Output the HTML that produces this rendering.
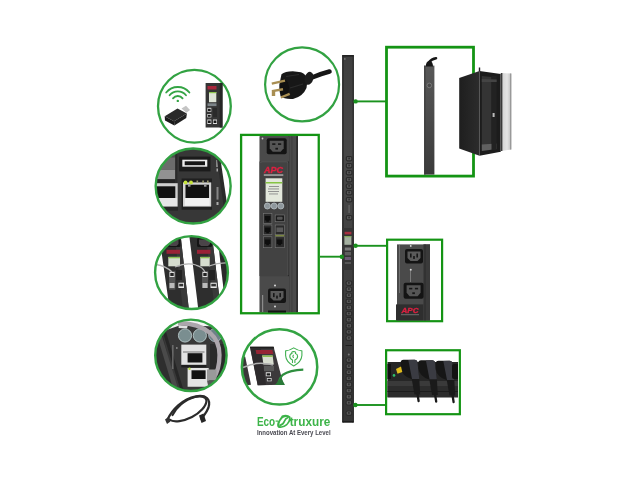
<!DOCTYPE html>
<html><head><meta charset="utf-8">
<style>
html,body{margin:0;padding:0;background:#fff;width:640px;height:480px;overflow:hidden}
svg{display:block;filter:blur(0.35px)}
.t{font-family:"Liberation Sans",sans-serif;font-weight:bold}
</style></head><body>
<svg width="640" height="480" viewBox="0 0 640 480">
<defs>
<clipPath id="c1"><circle cx="194.4" cy="106.25" r="36.4"/></clipPath>
<clipPath id="c2"><circle cx="193.15" cy="186.05" r="37.5"/></clipPath>
<clipPath id="c3"><circle cx="191.5" cy="272.55" r="36.4"/></clipPath>
<clipPath id="c4"><circle cx="190.9" cy="355.3" r="35.7"/></clipPath>
<clipPath id="c5"><circle cx="279.55" cy="366.9" r="37.7"/></clipPath>
<clipPath id="cr4"><rect x="387.5" y="351.5" width="70.5" height="61.5"/></clipPath>
<linearGradient id="pduG" x1="0" y1="0" x2="0" y2="1">
<stop offset="0" stop-color="#3e3e3e"/><stop offset="0.5" stop-color="#484848"/><stop offset="1" stop-color="#363636"/>
</linearGradient>
<linearGradient id="pduH" x1="0" y1="0" x2="1" y2="0">
<stop offset="0" stop-color="#2e2e2e"/><stop offset="0.3" stop-color="#474747"/><stop offset="1" stop-color="#3a3a3a"/>
</linearGradient>
<linearGradient id="trG" x1="0" y1="0" x2="0" y2="1">
<stop offset="0" stop-color="#585858"/><stop offset="0.5" stop-color="#4a4a4a"/><stop offset="1" stop-color="#3a3a3a"/>
</linearGradient>
<!-- C19 outlet symbol, 20x16 -->
<g id="c19">
<rect x="0" y="0" width="20" height="16" rx="2" fill="#141414"/>
<path d="M3 2.5 H17 V10 L14 13.5 H6 L3 10 Z" fill="#555"/>
<rect x="5.5" y="5" width="3.2" height="1.6" fill="#161616"/>
<rect x="11.3" y="5" width="3.2" height="1.6" fill="#161616"/>
<rect x="8.7" y="9.5" width="2.6" height="1.8" fill="#161616"/>
</g>
<!-- C13 outlet symbol, 18x14.5 -->
<g id="c13">
<rect x="0" y="0" width="18" height="14.5" rx="2" fill="#141414"/>
<path d="M2.5 2.5 H15.5 V9 L12.5 12 H5.5 L2.5 9 Z" fill="#5a5a5a"/>
<rect x="5" y="4.5" width="1.6" height="4" fill="#161616"/>
<rect x="11.4" y="4.5" width="1.6" height="4" fill="#161616"/>
<rect x="8.2" y="7" width="1.6" height="3" fill="#161616"/>
</g>
</defs>
<rect width="640" height="480" fill="#fff"/>

<!-- ============ main PDU ============ -->
<g id="mainpdu">
<defs>
<linearGradient id="mpG" x1="0" y1="0" x2="0" y2="1">
<stop offset="0" stop-color="#3e3e3e"/><stop offset="0.3" stop-color="#484848"/><stop offset="0.55" stop-color="#404040"/><stop offset="1" stop-color="#343434"/>
</linearGradient>
<g id="ol"><rect x="0" y="0" width="6.6" height="5.4" rx="1.8" fill="#2a2a2a"/><rect x="1.1" y="0.9" width="4.4" height="3.4" rx="1" fill="#575757"/><rect x="2.5" y="1.5" width="1.6" height="1.8" fill="#2e2e2e"/></g>
</defs>
<rect x="342.2" y="55" width="11.7" height="367.5" rx="1.2" fill="url(#mpG)"/>
<rect x="342.2" y="55" width="1.5" height="367.5" fill="#2c2c2c"/>
<rect x="352.4" y="55" width="1.5" height="367.5" fill="#303030"/>
<rect x="342.6" y="55" width="10.9" height="1.6" fill="#222"/>
<circle cx="344.8" cy="58.9" r="0.9" fill="#777"/>
<rect x="342.6" y="421" width="10.9" height="1.5" fill="#1e1e1e"/>

<use href="#ol" x="345.8" y="156"/>
<use href="#ol" x="345.8" y="163"/>
<use href="#ol" x="345.8" y="170"/>
<use href="#ol" x="345.8" y="177"/>
<use href="#ol" x="345.8" y="183.5"/>
<use href="#ol" x="345.8" y="190"/>
<use href="#ol" x="345.8" y="197"/>
<rect x="348.5" y="205" width="1.2" height="8" fill="#6a6a6a"/>
<use href="#ol" x="345.8" y="215"/>
<rect x="342.8" y="228" width="10.6" height="42" fill="#353535"/>
<rect x="344.6" y="231.8" width="6.8" height="2.6" fill="#a83040"/>
<rect x="344.4" y="236.2" width="7" height="8.6" fill="#a4b0a0"/>
<rect x="344.4" y="236.2" width="7" height="1" fill="#7fae50"/>
<rect x="344.8" y="247.5" width="6.2" height="3" fill="#7a7a7a"/>
<rect x="344.8" y="252" width="6.2" height="3.4" fill="#5e5e5e"/>
<rect x="344.8" y="257" width="6.2" height="3" fill="#6a5a72"/>
<rect x="344.8" y="262" width="6.2" height="2" fill="#555"/>

<use href="#ol" x="345.6" y="280.5"/>
<use href="#ol" x="345.6" y="286.6"/>
<use href="#ol" x="345.6" y="292.7"/>
<use href="#ol" x="345.6" y="298.8"/>
<use href="#ol" x="345.6" y="304.9"/>
<use href="#ol" x="345.6" y="311.0"/>
<use href="#ol" x="345.6" y="317.1"/>
<use href="#ol" x="345.6" y="323.2"/>
<use href="#ol" x="345.6" y="329.3"/>
<use href="#ol" x="345.6" y="335.4"/>
<rect x="345.6" y="345" width="6.4" height="1" fill="#1e1e1e"/>
<circle cx="348.8" cy="354.6" r="1" fill="#777"/>
<use href="#ol" x="345.6" y="357.5"/>
<use href="#ol" x="345.6" y="363.6"/>
<use href="#ol" x="345.6" y="369.7"/>
<use href="#ol" x="345.6" y="375.8"/>
<use href="#ol" x="345.6" y="381.9"/>
<use href="#ol" x="345.6" y="388.0"/>
<use href="#ol" x="345.6" y="394.1"/>
<use href="#ol" x="345.6" y="400.2"/>
<use href="#ol" x="345.6" y="410.5"/>
</g>

<!-- connector lines -->
<g stroke="#1a921e" stroke-width="1.9" fill="none">
<line x1="320" y1="256.7" x2="342" y2="256.7"/>
<line x1="354" y1="101.4" x2="386" y2="101.4"/>
<line x1="354" y1="245.8" x2="386" y2="245.8"/>
<line x1="354" y1="405" x2="386" y2="405"/>
</g>
<g fill="#1a921e">
<circle cx="341.8" cy="256.7" r="2.2"/>
<circle cx="355.6" cy="101.4" r="2.2"/>
<circle cx="355.6" cy="245.8" r="2.2"/>
<circle cx="355.4" cy="405" r="2.2"/>
</g>

<!-- ============ big left rect ============ -->
<rect x="241.1" y="134.9" width="77.65" height="178.35" fill="none" stroke="#149414" stroke-width="2.3"/>
<g id="bigpdu">
<rect x="259.5" y="136.2" width="38.5" height="175.9" fill="#3e3e3e"/>
<rect x="288" y="136.2" width="10" height="175.9" fill="#4a4a4a"/>
<rect x="288" y="136.2" width="1.2" height="175.9" fill="#2a2a2a"/>
<rect x="291.5" y="136.2" width="0.8" height="175.9" fill="#3a3a3a"/>
<rect x="296.2" y="136.2" width="1.8" height="175.9" fill="#2c2c2c"/>
<rect x="260" y="136.2" width="29" height="25.3" fill="#4a4a4a"/>
<use href="#c19" x="266.7" y="138.3"/>
<circle cx="262.5" cy="138.5" r="0.9" fill="#ccc"/>
<rect x="259.5" y="161.5" width="28.5" height="114.5" fill="#424242"/>
<text x="264" y="173" class="t" font-size="9.6" font-style="italic" fill="#dc2040" stroke="#dc2040" stroke-width="0.35" textLength="19" lengthAdjust="spacingAndGlyphs">APC</text>
<rect x="263.8" y="174.2" width="19.5" height="1.7" fill="#b4b4b4" opacity="0.8"/>
<rect x="265.6" y="178.3" width="16.7" height="23.5" fill="#e3e8dc"/>
<rect x="265.6" y="182" width="16.7" height="1.5" fill="#86c444"/>
<g fill="#8a8a8a"><rect x="269" y="186" width="10" height="0.9"/><rect x="268" y="188.5" width="11" height="0.9"/><rect x="268" y="191" width="11" height="0.9"/><rect x="269" y="193.5" width="9" height="0.9"/></g>
<g fill="#8e979c" stroke="#b8c0c4" stroke-width="0.8">
<circle cx="267.4" cy="206" r="3"/><circle cx="274.1" cy="206" r="3"/><circle cx="280.8" cy="206" r="3"/>
</g>
<!-- ports -->
<g stroke="#7a7a7a" stroke-width="0.6">
<rect x="263.3" y="213.5" width="8.6" height="9.8" fill="#2a2a2a"/>
<rect x="275.2" y="215" width="9.2" height="6.7" fill="#1c1c1c"/>
<rect x="263.3" y="225" width="8.6" height="9.7" fill="#2a2a2a"/>
<rect x="275.2" y="225" width="9.2" height="9.7" fill="#2a2a2a"/>
<rect x="263.3" y="236.8" width="8.6" height="10.9" fill="#2a2a2a"/>
<rect x="275.2" y="236.8" width="9.2" height="10.9" fill="#2a2a2a"/>
</g>
<g fill="#0e0e0e">
<path d="M264.8 216 h5.6 v4.5 h-1.5 v1.2 h-2.6 v-1.2 h-1.5 z"/>
<path d="M264.8 227.5 h5.6 v4.5 h-1.5 v1.2 h-2.6 v-1.2 h-1.5 z"/>
<path d="M264.8 239.5 h5.6 v4.5 h-1.5 v1.2 h-2.6 v-1.2 h-1.5 z"/>
<path d="M276.8 239.5 h5.6 v4.5 h-1.5 v1.2 h-2.6 v-1.2 h-1.5 z"/>
</g>
<rect x="277" y="216.8" width="5.6" height="3" rx="1" fill="#555"/>
<rect x="276.5" y="227.5" width="6.6" height="4.5" fill="#5a5a5a"/>
<rect x="275.2" y="234.9" width="9.2" height="1.4" fill="#8a9a40" opacity="0.8"/>
<path d="M260.5 163 Q260.5 161.8 262 161.8 L286.5 161.8 Q288 161.8 288 163 L288 275" fill="none" stroke="#5a5a5a" stroke-width="0.7"/>
<rect x="260" y="276.2" width="29" height="36" fill="#4a4a4a"/>
<use href="#c13" x="268" y="288.6"/>
<circle cx="275" cy="285.4" r="1" fill="#ddd"/>
<circle cx="275" cy="306.6" r="1" fill="#ddd"/>
<rect x="262.5" y="295" width="0.6" height="17" fill="#ccc"/>
<rect x="268" y="310.5" width="18" height="2" fill="#141414"/>
</g>

<!-- ============ top right rect ============ -->
<rect x="386.5" y="47.2" width="87" height="128.9" fill="none" stroke="#149414" stroke-width="2.8"/>
<rect x="424.2" y="65.6" width="10.2" height="109" fill="url(#trG)"/><rect x="424.2" y="65.6" width="1.2" height="109" fill="#3a3a3a"/>
<path d="M428.8 62.5 Q431.5 58.8 436 58.2" stroke="#161616" stroke-width="2.6" fill="none" stroke-linecap="round"/><path d="M425.8 66.4 Q425.8 61.2 429.4 61.2 Q433 61.2 433 66.4 Z" fill="#161616"/>
<circle cx="429.3" cy="85.4" r="2.3" fill="#4a4a4a" stroke="#8a8a8a" stroke-width="0.7"/>
<!-- rack -->
<defs>
<linearGradient id="sideG" x1="0" y1="0" x2="1" y2="0"><stop offset="0" stop-color="#1e1e1e"/><stop offset="1" stop-color="#2c2c2c"/></linearGradient>
<linearGradient id="doorG" x1="0" y1="0" x2="1" y2="0"><stop offset="0" stop-color="#cfcfcf"/><stop offset="0.6" stop-color="#e4e4e4"/><stop offset="1" stop-color="#bdbdbd"/></linearGradient>
</defs>
<polygon points="459.2,78.1 479.5,70.9 479.5,155.8 459.2,148.5" fill="url(#sideG)"/>
<polygon points="479.5,70.9 500.8,74 500.8,151.7 479.5,155.8" fill="#1c1c1c"/>
<polygon points="481.8,76 491.5,77 491.5,146 481.8,149" fill="#343434"/>
<polygon points="481.8,144.5 496.7,143.5 496.7,149 481.8,151" fill="#606060"/>
<rect x="491.5" y="76" width="5.2" height="74" fill="#222"/>
<rect x="492.6" y="113" width="2" height="4" fill="#bbb"/>
<polygon points="481.8,79 496.7,79.5 496.7,82 481.8,82" fill="#444"/>
<polygon points="500.8,73 511.3,73.5 511.3,149.6 500.8,151" fill="url(#doorG)"/>
<rect x="500.8" y="73" width="1.6" height="78" fill="#3a3a3a"/>
<rect x="510" y="73.5" width="1.3" height="76" fill="#999"/>
<line x1="479.5" y1="67.5" x2="479.5" y2="71.5" stroke="#222" stroke-width="1.4"/>

<!-- ============ middle right rect ============ -->
<rect x="387.1" y="239.7" width="55" height="81.5" fill="none" stroke="#149414" stroke-width="2.2"/>
<rect x="397" y="244.4" width="33" height="76" fill="#4a4a4a"/>
<rect x="423.3" y="244.4" width="6.7" height="76" fill="#3a3a3a"/>
<rect x="424.5" y="244.4" width="1" height="76" fill="#2a2a2a"/>
<use href="#c13" x="405" y="249" transform=""/>
<use href="#c19" x="403.6" y="282.8" transform=""/>
<circle cx="410.75" cy="245.9" r="0.9" fill="#ddd"/>
<circle cx="410.75" cy="269.7" r="1" fill="#ddd"/>
<rect x="410.5" y="270" width="0.5" height="12" fill="#aaa"/>
<rect x="399.5" y="245" width="0.5" height="48" fill="#999"/>
<rect x="396" y="304.4" width="27.3" height="16" fill="#2e2e2e"/>
<text x="401.5" y="313" class="t" font-size="7" font-style="italic" fill="#dc2040" stroke="#dc2040" stroke-width="0.3" textLength="17" lengthAdjust="spacingAndGlyphs">APC</text>
<rect x="401" y="314.2" width="18" height="1" fill="#999" opacity="0.6"/>

<!-- ============ lower right rect ============ -->
<rect x="386.1" y="350.25" width="73.75" height="63.95" fill="none" stroke="#149414" stroke-width="2.2"/>
<g clip-path="url(#cr4)">
<polygon points="387,362 459,362 459,397.5 387,397.5" fill="#262626"/>
<rect x="387" y="381" width="72" height="5" fill="#3a3a3a"/>
<rect x="387" y="386" width="72" height="11" fill="#2c2c2c"/>
<rect x="387" y="391" width="72" height="1" fill="#1c1c1c"/>
<rect x="387" y="364" width="4" height="15" fill="#111"/>
<g id="plg">
<path d="M400.7 362.5 Q400.7 359.7 403.5 359.7 L414.5 359.7 Q417.2 359.7 417.5 362.5 L419.3 379 L411.5 379 Q402 376 400.7 368 Z" fill="#161616"/>
<path d="M408.3 360 L414.5 359.7 Q417.2 359.7 417.5 362.5 L419.3 379 L412 379 Z" fill="#3a3b42"/>
<polygon points="411.7,379 419.3,379 420.2,394.6 414.5,394.6" fill="#1a1a1a"/>
<path d="M417.5 394 L418.6 401" stroke="#1a1a1a" stroke-width="2.3" stroke-linecap="round"/>
</g>
<use href="#plg" x="17.6" y="0.5"/>
<use href="#plg" x="35" y="1"/>
<rect x="452" y="364" width="7" height="15" rx="2" fill="#121212"/>
<polygon points="396,369 401,366.5 402.3,372 397.5,373.8" fill="#e0bc1c"/>
<circle cx="394" cy="375.4" r="1.3" fill="#2fbf6a"/>
</g>

<!-- ============ circles ============ -->
<!-- plug circle -->
<circle cx="302.1" cy="84.45" r="37" fill="none" stroke="#32a242" stroke-width="2.2"/>
<g id="plug">
<path d="M312 77.5 Q320 74 329.5 71.5" stroke="#161616" stroke-width="4.6" fill="none" stroke-linecap="round"/>
<path d="M281.5 74.3 Q285 71.2 292.8 71.2 L301 72.2 Q306.5 74.5 307.5 80 L306.5 88 Q303 96.5 293 99 Q284 99.5 280.5 96 Q278.8 90 279.3 84.7 Z" fill="#171717"/>
<ellipse cx="309" cy="78.3" rx="4.3" ry="6.6" fill="#1c1c1c" transform="rotate(15 309 78.3)"/>
<path d="M286 76.5 L299 74.5 M290 88 L303 84" stroke="#2c2c2c" stroke-width="1.2"/>
<ellipse cx="284.5" cy="88" rx="4.5" ry="8" fill="#101010"/>
<g stroke="#a88e52" stroke-width="2.4" stroke-linecap="butt">
<line x1="271.8" y1="83.6" x2="285" y2="80.6"/>
<line x1="272.1" y1="91.1" x2="283" y2="89.3"/>
<line x1="280.8" y1="97.5" x2="289.7" y2="93.8"/>
</g>
<rect x="271.8" y="90" width="3.4" height="6" fill="#a88e52"/>
</g>

<!-- wifi circle -->
<circle cx="194.4" cy="106.25" r="36.4" fill="none" stroke="#32a242" stroke-width="2.3"/>
<g fill="none" stroke="#34a444" stroke-width="1.8" stroke-linecap="round">
<path d="M166.2 92.5 A15 15 0 0 1 189.4 92.5"/>
<path d="M169.6 95.3 A10.6 10.6 0 0 1 186 95.3"/>
<path d="M173 98.4 A6 6 0 0 1 182.6 98.4"/>
</g>
<circle cx="177.8" cy="100.9" r="1.2" fill="#34a444"/>
<polygon points="164.7,116.25 177.5,108.4 186.9,113.4 174,121.2" fill="#2a2a2a"/>
<polygon points="164.7,116.25 174,121.2 174.4,125.6 165,120.6" fill="#1a1a1a"/>
<polygon points="174,121.2 186.9,113.4 186.25,118.1 174.4,125.6" fill="#202020"/>
<polygon points="181.5,108.5 186,105.8 190,110 186.5,112.8" fill="#c4c4c4"/>
<g>
<rect x="205.6" y="83" width="16.9" height="44.5" fill="#353535"/>
<rect x="219.7" y="83" width="2.8" height="44.5" fill="#262626"/>
<rect x="207.5" y="86" width="9" height="3.5" fill="#a8283c"/>
<rect x="209" y="92" width="7.3" height="10.2" fill="#dfe5d8"/>
<rect x="209" y="92" width="7.3" height="1.2" fill="#8cc44c"/>
<rect x="207.5" y="103.3" width="9" height="2.8" fill="#7c8488"/>
<rect x="207.3" y="107.8" width="4" height="4" fill="#ddd"/><rect x="207.9" y="108.8" width="2.8" height="2.3" fill="#1a1a1a"/>
<rect x="207.3" y="114" width="4" height="3.4" fill="#ddd"/><rect x="207.9" y="114.8" width="2.8" height="2" fill="#1a1a1a"/>
<rect x="207.3" y="119.5" width="4" height="4.5" fill="#ddd"/><rect x="207.9" y="120.5" width="2.8" height="2.5" fill="#1a1a1a"/>
<rect x="213" y="119.5" width="4" height="4.5" fill="#ddd"/><rect x="213.6" y="120.5" width="2.8" height="2.5" fill="#1a1a1a"/>
<rect x="213" y="108" width="4" height="9" fill="#2a2a2a"/>
</g>

<!-- circle 2: network ports -->
<g clip-path="url(#c2)">
<rect x="150" y="145" width="90" height="85" fill="#373737"/>
<rect x="150" y="145" width="25.3" height="12.4" fill="#4c4c4c"/>
<rect x="150" y="157.4" width="25.3" height="12.5" fill="#6c6c6c"/>
<rect x="150" y="169.9" width="25.3" height="9.4" fill="#929292"/>
<rect x="150" y="179.25" width="25.3" height="4" fill="#232323"/>
<rect x="175.3" y="145" width="2" height="38" fill="#2a2a2a"/>
<rect x="150" y="183.2" width="27.7" height="25.8" fill="#cfcfcf"/>
<rect x="150" y="186.3" width="25.3" height="11.7" fill="#121212"/>
<rect x="150" y="198" width="27" height="8.6" fill="#e6e6e6"/>
<rect x="150" y="206.6" width="28" height="4" fill="#262626"/>
<rect x="179.2" y="156.6" width="31.3" height="14.8" fill="#1b1b1b"/>
<rect x="182.3" y="159.7" width="25" height="7" fill="#ececec"/>
<rect x="184.7" y="161.3" width="20.3" height="3.9" fill="#151515"/>
<rect x="181.6" y="178.5" width="30.4" height="31.2" fill="#1f1f1f"/>
<rect x="183" y="182.4" width="28.25" height="24.2" fill="#d2d2d2"/>
<rect x="185.5" y="184.7" width="23.5" height="13.3" fill="#111"/>
<rect x="184.7" y="198" width="25" height="7.8" fill="#f0f0f0"/>
<rect x="188" y="184.7" width="2.5" height="2" fill="#999"/><rect x="204" y="184.7" width="2.5" height="2" fill="#999"/>
<circle cx="185.5" cy="182.4" r="1.9" fill="#c6e43c"/>
<circle cx="191" cy="182.4" r="1.9" fill="#c6e43c"/>
<g fill="#9a9a70"><rect x="196.5" y="180.5" width="1.6" height="2.4"/><rect x="202.3" y="180.5" width="1.6" height="2.4"/><rect x="207" y="180.5" width="1.6" height="2.4"/></g>
<rect x="216.5" y="187" width="2" height="12.6" fill="#9a9a9a" opacity="0.8"/>
<rect x="216" y="160" width="2" height="7" fill="#9a9a9a" opacity="0.8"/>
<rect x="216.5" y="168.5" width="1.5" height="3" fill="#aaa"/>
<rect x="216.5" y="202" width="2" height="3" fill="#aaa"/>
<polygon points="215,145 218.4,145 230.9,230 227,230" fill="#2a2a2a"/>
<polygon points="218.4,145 240,145 240,230 230.9,230" fill="#fff"/>
</g>
<circle cx="193.15" cy="186.05" r="37.5" fill="none" stroke="#32a242" stroke-width="2.4"/>

<!-- circle 3: two PDUs -->
<g clip-path="url(#c3)">
<rect x="150" y="230" width="90" height="85" fill="#fff"/>
<polygon points="150,230 180,230 189.5,315 170.5,315 161.5,252 150,252" fill="#2e2e2e"/>
<polygon points="174,230 180,230 189.5,315 183.5,315" fill="#393939"/>
<polygon points="188.6,230 211.3,230 221.5,315 199,315" fill="#2e2e2e"/>
<polygon points="205,230 211.3,230 221.5,315 215.5,315" fill="#393939"/>
<polygon points="216.7,230 240,230 240,315 226.5,315" fill="#2a2a2a"/>
<!-- strip1 detail -->
<rect x="166.5" y="238" width="14" height="9" rx="1.5" fill="#141414"/>
<path d="M168.5 239.5 h10 v4.5 l-2 2 h-6 l-2 -2 z" fill="#4a4448"/>
<rect x="166.5" y="249.8" width="13.5" height="4" fill="#9a2236"/>
<rect x="168.3" y="256.9" width="11.7" height="9.4" fill="#d6ddcf"/>
<rect x="168.3" y="256.9" width="11.7" height="1.4" fill="#8ac050"/>
<rect x="169" y="271" width="6.3" height="18.7" fill="#555"/>
<rect x="169.5" y="272" width="5" height="5" fill="#ddd"/><rect x="170.3" y="273" width="3.4" height="3" fill="#222"/>
<rect x="169.5" y="283" width="5" height="5" fill="#bbb"/>
<rect x="178.4" y="282.7" width="5.6" height="5.3" fill="#e8e8e8"/><rect x="179.2" y="283.8" width="4" height="2.6" fill="#333"/>
<rect x="176" y="270" width="6" height="10" fill="#222"/>
<!-- strip2 detail -->
<rect x="197" y="238" width="15" height="9" rx="1.5" fill="#141414"/>
<path d="M199 239.5 h11 v4.5 l-2 2 h-7 l-2 -2 z" fill="#4a4448"/>
<rect x="197" y="249.8" width="13.5" height="4" fill="#9a2236"/>
<rect x="200.3" y="256.9" width="9.4" height="9.4" fill="#d6ddcf"/>
<rect x="200.3" y="256.9" width="9.4" height="1.4" fill="#8ac050"/>
<rect x="202" y="271" width="6" height="17" fill="#555"/>
<rect x="202.5" y="272" width="5" height="5" fill="#ddd"/><rect x="203.3" y="273" width="3.4" height="3" fill="#222"/>
<rect x="202.5" y="283" width="5" height="5" fill="#bbb"/>
<rect x="210.5" y="282.7" width="6.2" height="5.3" fill="#e8e8e8"/><rect x="211.3" y="283.8" width="4.6" height="2.6" fill="#333"/>
<rect x="209" y="270" width="6" height="10" fill="#222"/>
<g stroke="#b4b4b4" stroke-width="1.3" fill="none">
<path d="M156 264.5 Q166 266 172 272"/>
<path d="M175 267 Q187 262 196 265 Q203 267 205 272"/>
<path d="M209 266 Q219 262 230 263"/>
</g>
</g>
<circle cx="191.5" cy="272.55" r="36.4" fill="none" stroke="#32a242" stroke-width="2.4"/>

<!-- circle 4 -->
<g clip-path="url(#c4)">
<rect x="150" y="315" width="90" height="85" fill="#383838"/>
<polygon points="150,330 160,325 178,395 150,395" fill="#2e2e2e"/>
<polygon points="157,335 161,333 180,395 175,395" fill="#4a4a4a"/>
<polygon points="163,333 166,332 185,395 182,395" fill="#262626"/>
<polygon points="150,315 240,315 240,327.5 181,325 164.2,330.8 150,338" fill="#f4f4f4"/>
<polygon points="178.6,325 187.6,326 187,328.6 178.6,328" fill="#e0e0e0"/>
<circle cx="185" cy="335.5" r="6.6" fill="#7a8e90" stroke="#b8c8c8" stroke-width="0.9"/>
<circle cx="199.85" cy="335.5" r="6.6" fill="#7a8e90" stroke="#b8c8c8" stroke-width="0.9"/>
<circle cx="215.25" cy="335" r="6.6" fill="#6e8088" stroke="#a8b8c0" stroke-width="0.9"/>
<rect x="181.3" y="344.6" width="25" height="20.3" fill="#e2e2e2"/>
<rect x="181.3" y="364.9" width="25" height="2.5" fill="#1e1e1e"/>
<rect x="187.6" y="353.2" width="14.8" height="9.3" fill="#141414"/>
<rect x="183" y="351" width="21.5" height="2" fill="#aaa"/>
<rect x="187.6" y="368" width="21.1" height="18.75" fill="#e4e4e4"/>
<rect x="191.5" y="370.3" width="14.1" height="8.7" fill="#131313"/>
<circle cx="189.5" cy="368.7" r="1.2" fill="#b4dc40"/>
<rect x="210" y="344" width="18" height="40" fill="#2a2a2a"/>
<circle cx="218" cy="344.6" r="1.4" fill="#a8d840"/>
<rect x="172" y="345" width="1.6" height="24" fill="#8a8a8a" opacity="0.6"/>
<rect x="176" y="347" width="1.6" height="2" fill="#9a9a9a" opacity="0.7"/>
<path d="M178 323.3 Q197 322.5 210 332.9 Q219.5 341 219.5 355 Q219.5 370 213.4 378" stroke="#aca6ac" stroke-width="4.3" fill="none"/>
<polygon points="207,369.5 216.5,369.5 216.5,380.5 207,380.5" fill="#9a9a9a"/>
<polygon points="207,380.5 216.5,380.5 214,390 209,390" fill="#555"/>
</g>
<circle cx="190.9" cy="355.3" r="35.7" fill="none" stroke="#32a242" stroke-width="2.4"/>

<!-- cable -->
<g fill="none" stroke="#2b2b2b" stroke-width="2.2" stroke-linecap="round">
<path d="M167.5 419.5 C172 410 182 399 196 396.3 C206 394.5 211 399 208.5 407.5 C206.5 413 203.5 416 201.5 419"/>
<path d="M169.5 419.5 C174 423 184 421 192 417 C200 413 206.5 406 206.5 400.5 C206 396.5 200 395.5 195 397 C184 400 176 408 172.5 415"/>
</g>
<polygon points="165,419.5 168.5,417 170.5,421.5 167,424" fill="#333"/>
<polygon points="199,415.5 203.5,413.5 206,421 201.5,423" fill="#262626"/>

<!-- eco circle -->
<g clip-path="url(#c5)">
<polygon points="240,355 245.2,356.7 251,384.8 240,386" fill="#3a3638"/>
<polygon points="249.9,346.8 273.6,346.8 283.5,384.8 257.7,385.3" fill="#3c393b"/>
<polygon points="249.9,346.8 273.6,346.8 274.2,348.4 250.2,348.4" fill="#1e1e1e"/>
<polygon points="250.5,349 261,349 266,385 257.7,385.3" fill="#2e2b2d"/>
<polygon points="255.6,349.9 272.3,349.9 273.3,354 256.4,354" fill="#952434"/>
<polygon points="262.2,355.6 272.6,355.6 273.8,364.5 263.4,364.5" fill="#d8ddd0"/>
<polygon points="262.2,355.6 272.6,355.6 272.9,357 262.4,357" fill="#8cc050"/>
<rect x="265.8" y="372.3" width="5.2" height="3.9" fill="#e6e6e6"/><rect x="266.6" y="373.3" width="3.6" height="2.2" fill="#1a1a1a"/>
<rect x="266.9" y="378" width="4.7" height="3.3" fill="#ddd"/><rect x="267.6" y="378.8" width="3.2" height="1.8" fill="#1a1a1a"/>
<rect x="264" y="366" width="10" height="5" fill="#5a5a5a"/>
<path d="M243 367.5 Q254 362.5 264 363.4 Q270 363.6 273 365" stroke="#b0b0b0" stroke-width="1.5" fill="none"/>
<path d="M303.3 369.7 Q290 370 282.5 375 Q279.5 378 278.3 383.5" stroke="#2f8f3f" stroke-width="2.2" fill="none"/>
<polygon points="275,385 281,377.5 285,385" fill="#2a7a38"/>
</g>
<circle cx="279.55" cy="366.9" r="37.7" fill="none" stroke="#33a443" stroke-width="2.5"/>
<g fill="none" stroke="#40b050" stroke-width="1.1" stroke-linejoin="round">
<path d="M293.7 347.9 Q289.5 350.6 285.6 350.9 L285.6 355.5 Q286 362 293.7 366 Q301.4 362 301.9 355.5 L301.9 350.9 Q297.9 350.6 293.7 347.9 Z"/>
<path d="M292.5 363 L292.5 360 Q289.8 359 289.8 356.3 Q289.8 353.8 292 353.5 Q291 351.8 293.7 351.5 Q296.4 351.8 295.4 353.5 Q297.6 354 297.6 356.3 Q297.6 359 294.9 360 L294.9 363"/>
<path d="M293.7 354.8 Q292 356.3 293.7 357.8"/>
</g>

<!-- logo -->
<text x="256.9" y="426.3" class="t" font-size="12.6" fill="#3db449" textLength="18.3" lengthAdjust="spacingAndGlyphs">Eco</text>
<path d="M281.9 415.6 Q287 413.6 290.4 416.5 Q291.6 419.2 289.2 422.8 L287.2 425.3 Q283 429 278.3 427.8 Q276.2 425.8 277.8 421.8 Z" fill="#3db449"/>
<path d="M282.8 417.9 Q287.4 415.8 289 418.3 Q288.8 421.2 286.6 423.7 Q283 427 279.8 425.9 Q278.8 424 280.4 421 Z" fill="#fff"/><path d="M288.4 417.2 Q285.2 418.4 284.4 421.2 Q283.6 424.2 279.6 425.6" fill="none" stroke="#3db449" stroke-width="1.7"/>
<rect x="275.6" y="420.5" width="2.5" height="1.2" fill="#3db449"/>
<rect x="289.4" y="420" width="2.5" height="1.2" fill="#3db449"/>
<text x="289.7" y="426.3" class="t" font-size="12.6" fill="#3db449" textLength="40.6" lengthAdjust="spacingAndGlyphs">truxure</text>
<text x="256.9" y="434.7" class="t" font-size="7.2" fill="#4a4a52" textLength="73.7" lengthAdjust="spacingAndGlyphs">Innovation At Every Level</text>
</svg>
</body></html>
